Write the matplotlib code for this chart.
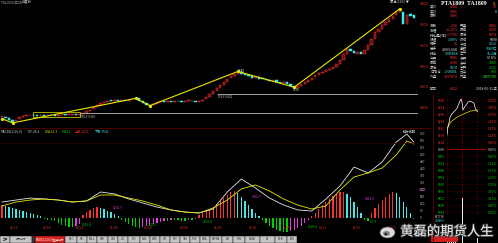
import matplotlib
matplotlib.use("Agg")
import matplotlib.pyplot as plt
import matplotlib.patheffects as pe
from matplotlib.patches import Rectangle, Ellipse, Circle

plt.rcParams['font.family'] = ['Noto Sans CJK SC', 'DejaVu Sans']

# ---------------- data ----------------
opens = [5310, 5318, 5300, 5288, 5272, 5292, 5310, 5322, 5330,
         5336, 5331, 5326, 5333, 5329, 5336, 5331, 5327, 5334, 5338, 5332, 5336, 5341, 5335,
         5343, 5356, 5371, 5386, 5406, 5426,
         5446, 5461, 5471, 5466, 5473, 5469, 5476, 5471, 5481,
         5489,
         5494, 5471, 5451, 5431,
         5426, 5441, 5456, 5463, 5459, 5466, 5461, 5469, 5463, 5459, 5467, 5471, 5464, 5456,
         5469, 5481, 5501, 5531, 5561, 5591, 5621, 5651, 5681, 5701, 5721,
         5744, 5726, 5711, 5701, 5689, 5696, 5681, 5676, 5671, 5659, 5666, 5651, 5639, 5646, 5631, 5611,
         5594, 5611, 5631, 5651, 5671, 5691, 5711, 5731, 5746, 5761, 5776,
         5791, 5821, 5861, 5911,
         5961, 5941, 5919, 5931,
         5911, 5951, 6001, 6061, 6121, 6151, 6191, 6221, 6251, 6281, 6311,
         6310, 6201, 6291, 6281]
closes = [5320, 5300, 5285, 5270, 5290, 5310, 5320, 5330, 5335,
          5330, 5325, 5332, 5328, 5335, 5330, 5326, 5333, 5338, 5331, 5336, 5340, 5334, 5342,
          5355, 5370, 5385, 5405, 5425, 5445,
          5460, 5470, 5465, 5472, 5468, 5475, 5470, 5480, 5488,
          5495,
          5470, 5450, 5430, 5425,
          5440, 5455, 5462, 5458, 5465, 5460, 5468, 5462, 5458, 5466, 5470, 5463, 5455, 5468,
          5480, 5500, 5530, 5560, 5590, 5620, 5650, 5680, 5700, 5720, 5745,
          5725, 5710, 5700, 5690, 5695, 5680, 5675, 5670, 5660, 5665, 5650, 5640, 5645, 5630, 5610, 5595,
          5610, 5630, 5650, 5670, 5690, 5710, 5730, 5745, 5760, 5775, 5790,
          5820, 5860, 5910, 5960,
          5940, 5920, 5930, 5910,
          5950, 6000, 6060, 6120, 6150, 6190, 6220, 6250, 6280, 6310, 6330,
          6200, 6290, 6280, 6260]
zig_idx = [0, 3, 38, 42, 67, 83, 113]
zig_val = [5298, 5258, 5492, 5422, 5748, 5598, 6345]
support_levels = [5352, 5533]
support_start = [22.2, 61]
support_labels = ["5352-5310", "5533-5422"]
price_ticks = [5400, 5600, 5800, 6000, 6200, 6400]

dif_idx = [0, 4, 8, 12, 16, 20, 24, 28, 32, 36, 40, 44, 48, 52, 56, 60, 64, 68, 72, 76,
           80, 84, 88, 92, 96, 100, 104, 108, 112, 115, 117]
dif_val = [137, 154, 171, 163, 154, 137, 146, 223, 206, 163, 129, 94, 69, 51, 43, 77, 223, 334,
           257, 171, 111, 69, 60, 163, 274, 437, 386, 480, 651, 720, 651]
dea_val = [103, 137, 154, 163, 154, 137, 146, 197, 197, 171, 146, 111, 69, 51, 43, 86, 154, 249,
           283, 231, 163, 111, 77, 103, 240, 351, 386, 429, 540, 660, 634]
hist = [111, 103, 94, 86, 77, 69, 60, 51, 43, 34,
        26, 17, -9, -17, -17, -26, -43, -60, -69, -77,
        -77, -69, -51, 26, 51, 69, 86, 94, 86, 77,
        60, 51, 34, 17, -17, -34, -51, -69, -77, -86,
        -77, -69, -60, -51, -43, -34, -26, -26, -17, -17,
        -17, -26, -26, -17, -17, -9, 26, 43, 60, 77,
        94, 120, 146, 171, 197, 223, 231, 214, 180, 146,
        111, 77, 43, 17, -17, -43, -69, -86, -103, -111,
        -120, -120, -111, -103, -86, -69, -43, -17, 17, 43,
        77, 111, 137, 163, 189, 206, 223, 223, 206, 180,
        137, 94, 43, -17, -26, 43, 86, 120, 154, 180,
        206, 223, 214, 180, 137, 94, 43, -9]
macd_ticks = [0, 60, 120, 180, 240, 300, 360, 420, 480, 540, 600, 660, 720]
date_idx = [3.4, 12.8, 22.2, 31.8, 41.5, 51.7, 61.4, 71.3, 81, 91.2, 100.9, 110.8]
date_labels = ["05/16", "05/18", "05/22", "05/24", "05/28", "05/30",
               "06/01", "06/05", "06/07", "06/11", "06/13", "06/15"]

intra_t = [0, 2, 5, 8, 12, 15, 19, 22, 26, 31, 36, 38.5, 41, 45, 49, 54, 59, 64, 69, 74, 79]
intra_p = [6158, 6192, 6216, 6245, 6260, 6265, 6274, 6279, 6289, 6313, 6333, 6318, 6279,
           6294, 6304, 6318, 6323, 6318, 6313, 6279, 6270]
avg_t = [0, 10, 26, 45, 60, 79]
avg_p = [6190, 6222, 6245, 6262, 6274, 6280]
vol_t = [1, 6, 11, 16, 21, 26, 31, 36, 40, 44, 49, 54, 59, 64, 69, 74, 79]
vol_v = [16000, 12000, 8000, 6000, 10000, 8000, 6000, 20000, 94000, 12000, 8000, 6000,
         8000, 6000, 4000, 6000, 10000]
prev_settle = 6090
intra_levels = [6328, 6294, 6260, 6226, 6192, 6158, 6124, 6090, 6056, 6022, 5988,
                5954, 5920, 5886, 5852, 5818, 5784]
intra_pct = ["3.91%", "3.35%", "2.79%", "2.23%", "1.67%", "1.12%", "0.56%", "0.00%",
             "0.56%", "1.12%", "1.67%", "2.23%", "2.79%", "3.35%", "3.91%", "4.47%", "5.02%"]

info_left = ["卖价", "买价", "最新", "", "涨跌", "涨幅", "持仓量(增)", "振幅", "现手", "总手",
             "持仓", "今开", "最高", "最低", "日增仓", "外盘"]
info_lval = ["6288", "6286", "6286", "", "+196", "+3.22%", "+17796", "1.98%", "16", "2,893,668",
             "1009858", "6086", "6330", "6074", "+158001", "1437872"]
info_mid = ["", "", "", "", "开盘", "最高", "最低", "昨结", "今结", "金额",
            "空平", "多开", "多平", "空开", "双平", "内盘"]
info_rval = ["32", "8", "", "", "6086", "6330", "6074", "6090", "6212", "1083亿",
             "15.2万", "67.8%", "4083", "1231", "980", "1455796"]

tab_labels = ["主图", "技术指标", "|", "MACD(12,26,9)趋势指标", "KDJ", "RSI", "BOLL", "DMI", "OBV",
              "CCI", "ROC", "BIAS", "W&R", "VR", "PSY", "SAR", "TRIX", "DMA", "EXPMA", "ASI",
              "EMV", "WVAD", "CR", "MTM", "ADX"]

# ---------------- layout ----------------
W, H = 498, 243
RED = '#ff3030'
CYAN = '#40e8e8'
GREEN = '#00d000'
MAG = '#e040e0'
YEL = '#e8e800'
DKRED = '#5a0000'

fig = plt.figure(figsize=(W / 100, H / 100), dpi=100, facecolor='black')


def px_axes(x0, y0, x1, y1, z=1):
    a = fig.add_axes([x0 / W, 1 - y1 / H, (x1 - x0) / W, (y1 - y0) / H], zorder=z)
    a.set_facecolor('none')
    for s in a.spines.values():
        s.set_visible(False)
    a.set_xticks([])
    a.set_yticks([])
    return a


N = len(closes)
XL = (-0.568, 118.18)

# ---- price panel
axp = px_axes(0, 0, 418, 128)
axp.set_xlim(*XL)
axp.set_ylim(5209.5, 6428.6)
bott = [min(o, c) for o, c in zip(opens, closes)]
hts = [max(abs(c - o), 8) for o, c in zip(opens, closes)]
faces = ['#6a0a0a' if c >= o else CYAN for o, c in zip(opens, closes)]
edges = ['#ff3838' if c >= o else CYAN for o, c in zip(opens, closes)]
axp.bar(range(N), hts, bottom=bott, width=0.68, color=faces, edgecolor=edges, linewidth=0.35)
for lv, st in zip(support_levels, support_start):
    axp.hlines(lv, st, XL[1], color='#bdbdbd', lw=0.6)
axp.add_patch(Rectangle((8.8, 5314), 13.4, 48, fill=False, edgecolor=YEL, lw=0.5))
axp.plot(zig_idx, zig_val, color=YEL, lw=0.8)
axp.plot(zig_idx, zig_val, 'o', color=YEL, ms=1.3)
axp.yaxis.tick_right()
axp.set_yticks(price_ticks)
axp.set_yticklabels([str(v) for v in price_ticks])
axp.tick_params(axis='y', length=0, pad=1.5, labelsize=2.8, labelcolor='#e03030')

# ---- MACD panel
axm = px_axes(0, 128, 418, 232)
axm.set_xlim(*XL)
axm.set_ylim(-120, 771.4)
hcol = []
for i, v in enumerate(hist):
    p = hist[i - 1] if i > 0 else v
    if v >= 0:
        hcol.append(RED if v >= p else CYAN)
    else:
        hcol.append(GREEN if v <= p else MAG)
axm.bar(range(N), hist, width=0.36, color=hcol)
axm.plot(dif_idx, dif_val, color='#e6e6e6', lw=0.6)
axm.plot(dif_idx, dea_val, color=YEL, lw=0.6)
axm.yaxis.tick_right()
axm.set_yticks(macd_ticks)
axm.set_yticklabels([str(v) for v in macd_ticks])
axm.tick_params(axis='y', length=0, pad=1.5, labelsize=2.3, labelcolor='#b8b8b8')
tr = axm.get_xaxis_transform()
for xi, lb in zip(date_idx, date_labels):
    axm.text(xi, 0.04, lb, transform=tr, color='#e03030', fontsize=2.4, ha='center', va='center')

# ---- intraday panel
axi = px_axes(447, 95, 486, 214)
axi.set_xlim(0, 100)
axi.set_ylim(5774.3, 6352.3)
for lv in intra_levels:
    if lv == prev_settle:
        axi.axhline(lv, color='#b00000', lw=0.6)
    else:
        axi.axhline(lv, color=DKRED, lw=0.4, ls=(0, (2, 1.5)))
for tv, c in zip([0, 38.5, 77, 100], [DKRED, '#8a0000', DKRED, DKRED]):
    axi.axvline(tv, color=c, lw=0.5, ls=(0, (2, 1.5)))
axi.plot(avg_t, avg_p, color=YEL, lw=0.5)
axi.plot(intra_t, intra_p, color='white', lw=0.5)
axi.set_yticks(intra_levels)
axi.set_yticklabels([str(v) for v in intra_levels])
axi.tick_params(axis='y', length=0, pad=1.2, labelsize=2.3)
for lb, lv in zip(axi.get_yticklabels(), intra_levels):
    lb.set_color(RED if lv > prev_settle else ('#d0d0d0' if lv == prev_settle else GREEN))
axr = axi.twinx()
axr.set_ylim(axi.get_ylim())
for s in axr.spines.values():
    s.set_visible(False)
axr.set_yticks(intra_levels)
axr.set_yticklabels(intra_pct)
axr.tick_params(axis='y', length=0, pad=1.2, labelsize=2.3)
for lb, lv in zip(axr.get_yticklabels(), intra_levels):
    lb.set_color(RED if lv > prev_settle else ('#d0d0d0' if lv == prev_settle else GREEN))

axv = px_axes(447, 195, 486, 243, z=2)
axv.set_xlim(0, 100)
axv.set_ylim(0, 100000)
axv.bar(vol_t, vol_v, width=1.6, color='#e8e8e8')

# ---- overlay (text, frames)
ov = fig.add_axes([0, 0, 1, 1], zorder=10)
ov.set_xlim(0, W)
ov.set_ylim(H, 0)
ov.axis('off')
ov.patch.set_alpha(0)


def T(x, y, s, c='#c8c8c8', fs=2.6, ha='left', **kw):
    ov.text(x, y, s, color=c, fontsize=fs, ha=ha, va='center', **kw)


ov.plot([0, 430], [128, 128], color=DKRED, lw=0.6)
ov.plot([0, 418], [143, 143], color='#3a0000', lw=0.5)
ov.plot([433, 433], [92, 243], color=DKRED, lw=0.6)

T(1, 1.8, "PTA1809(日线)", '#9a9a9a', 2.4)
T(22, 1.8, "前复权", '#d0d0d0', 2.4)
T(390, 1.8, "最高 6331 ▼", '#d8d8d8', 2.4)
T(238, 70.5, "5745", '#e0e0e0', 2.3)
T(293, 89.5, "5595", '#e0e0e0', 2.3)
T(81, 116.6, support_labels[0], '#bdbdbd', 2.3)
T(218, 97.2, support_labels[1], '#bdbdbd', 2.3)

# MACD title
T(1, 131.5, "MACD(12,26,9)", '#d0d0d0', 2.3)
T(28, 131.5, "DIF:28.4", '#d0d0d0', 2.3)
T(45, 131.5, "DEA:16.7", YEL, 2.3)
T(62, 131.5, "M:23.5", GREEN, 2.3)
T(75, 131.5, "上涨:1237", RED, 2.3)
T(95, 131.5, "下跌:7531", CYAN, 2.3)
T(403, 132, "指标说明", '#d8d8d8', 2.3)
T(113, 208, "1232.7", MAG, 2.3)
T(252, 197, "4960.7", MAG, 2.3)
T(365, 199, "4963.5", MAG, 2.3)
T(419, 190, "1237", MAG, 2.3)
T(82, 225, "7531.4", GREEN, 2.3)
T(148, 225, "2605.1", GREEN, 2.3)
T(203, 222, "2639.8", GREEN, 2.3)
T(308, 227, "2198.4", GREEN, 2.3)
T(370, 222, "-17.3", GREEN, 2.3)

# tabs
tab_edges = [0, 10, 32, 35, 65, 77, 87, 97, 108, 118, 128, 140, 150, 160, 170, 180, 190,
             200, 210, 222, 233, 245, 260, 275, 287, 297]
for k, lb in enumerate(tab_labels):
    x0, x1 = tab_edges[k], tab_edges[k + 1]
    fc = '#d82020' if k == 3 else ('#3a3a3a' if k == 2 else '#c4c4c4')
    ov.add_patch(Rectangle((x0, 235.5), x1 - x0, 7.5, facecolor=fc, edgecolor='black', lw=0.3))
    T((x0 + x1) / 2, 239.2, lb, 'white' if k == 3 else '#303030', 1.9, ha='center')

# info panel
ov.text(464, 3.8, "PTA1809  TA1809", color='white', fontsize=4.2, weight='bold',
        family=['Liberation Serif', 'DejaVu Serif'], ha='center', va='center')
T(493, 3.8, "8", '#ff9900', 3)
lcols = [RED, RED, RED, RED, RED, RED, RED, CYAN, RED, '#e8e8e8', CYAN, RED, RED, CYAN, CYAN, RED]
rcols = [RED, CYAN, RED, RED, RED, RED, RED, '#e8e8e8', CYAN, CYAN, CYAN, '#e8e8e8', GREEN,
         GREEN, GREEN, '#40ff40']
for k in range(16):
    y = 7 + 4.67 * k
    T(430, y, info_left[k], '#c8c8c8', 2.6)
    T(458, y, info_lval[k], lcols[k], 2.6, ha='right')
    T(460, y, info_mid[k], '#c8c8c8', 2.6)
    T(497, y, info_rval[k], rcols[k], 2.6, ha='right')
T(430, 89, "明日", '#c8c8c8', 2.6)
T(458, 89, "6212", RED, 2.6, ha='right')
T(497, 89, "2018-06-15 五", '#e0e0e0', 2.4, ha='right')
T(434.5, 216.5, "837738", '#d0d0d0', 2.1)
T(434.5, 220.8, "418869", CYAN, 2.1)

# watermark
ov.add_patch(Rectangle((431, 235.5), 27, 6, facecolor='#d02020', edgecolor='none'))
ov.add_patch(Ellipse((387.5, 232.5), 15, 11, facecolor='#f4f4f4', edgecolor='#555555', lw=0.5, alpha=0.9))
ov.add_patch(Ellipse((386.5, 233.5), 7, 5, facecolor='#777777', edgecolor='none', alpha=0.9))
ov.add_patch(Circle((385.8, 234), 1.3, facecolor='#222222', edgecolor='none'))
ov.text(447, 231.5, "黄磊的期货人生", color='#f2f2f2', fontsize=9.6, ha='center', va='center',
        path_effects=[pe.withStroke(linewidth=1.2, foreground='#3c3c3c')])

fig.savefig("out.png", dpi=100, facecolor='black')
